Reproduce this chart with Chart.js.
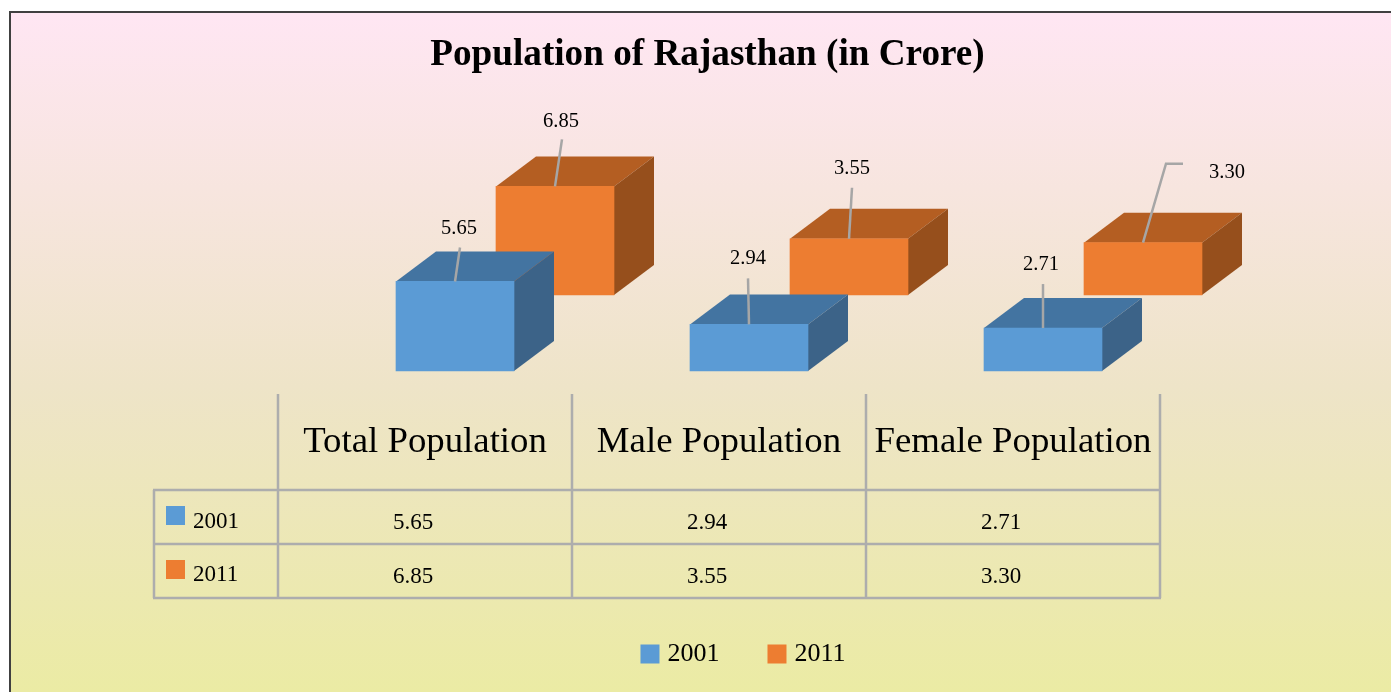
<!DOCTYPE html>
<html>
<head>
<meta charset="utf-8">
<style>html,body{margin:0;padding:0;background:#fff;overflow:hidden}canvas{display:block}</style>
<script src="https://cdn.jsdelivr.net/npm/chart.js@4"></script>
</head>
<body>
<div style="width:1391px;height:692px"><canvas id="c" width="1391" height="692"></canvas></div>
<script>
const titleText = 'Population of Rajasthan (in Crore)';
const categories = ['Total Population', 'Male Population', 'Female Population'];
const series2001Name = '2001';
const series2011Name = '2011';
const values2001 = [5.65, 2.94, 2.71];
const values2011 = [6.85, 3.55, 3.30];

const FONT = '"Liberation Serif", serif';
const front = {a: '#5b9bd5', b: '#ed7d31'};
const topFace = {a: '#4374a1', b: '#b45e22'};
const sideFace = {a: '#3c6388', b: '#964f1c'};
const DEPTH = {x: 40, y: -30};
const GEOM = {left: 278, right: 1160, top: 85.7, bottom: 371, dx1: 30, dx2: 130, dy2: -76,
  tableLeft: 154, rows: [394, 490, 544, 598]};
// leader line offsets from each bar's top-centre, then label offset
const leaders = [
  [[[5, -34]], [4, -53]],
  [[[-1, -46]], [-1, -66]],
  [[[0, -44]], [-2, -63]],
];
const leaders2 = [
  [[[7, -47]], [6, -65]],
  [[[3, -51]], [3, -70]],
  [[[23, -79], [40, -79]], [84, -70]],
];

const layoutPlugin = {
  id: 'placeBoxes',
  afterLayout(chart) {
    const s = chart.scales;
    const setX = (sc, dx) => { sc.left = GEOM.left + dx; sc.right = GEOM.right + dx; sc.width = GEOM.right - GEOM.left; };
    const setY = (sc, dy) => { sc.top = GEOM.top + dy; sc.bottom = GEOM.bottom + dy; sc.height = GEOM.bottom - GEOM.top; };
    setX(s.x, 0); setX(s.x1, GEOM.dx1); setX(s.x2, GEOM.dx2);
    s.x.top = GEOM.bottom; s.x.bottom = GEOM.bottom + 100; s.x.height = 100;
    setY(s.y, 0); setY(s.y2, GEOM.dy2);
    Object.values(s).forEach(sc => sc.configure());
    Object.assign(chart.chartArea, {left: GEOM.left, right: GEOM.right, top: GEOM.top, bottom: GEOM.bottom,
      width: GEOM.right - GEOM.left, height: GEOM.bottom - GEOM.top});
    const t = chart.titleBlock;
    t.left = 12; t.right = 1403; t.top = 33;
    const l = chart.legend;
    l.left = 50; l.right = 1441; l.top = 588;
  }
};

const paintPlugin = {
  id: 'paint',
  beforeDraw(chart) {
    const ctx = chart.ctx;
    ctx.save();
    const g = ctx.createLinearGradient(0, 12, 0, 692);
    g.addColorStop(0, '#ffe6f3');
    g.addColorStop(0.55, '#eee4c8');
    g.addColorStop(1, '#ebeba4');
    ctx.fillStyle = '#ffffff';
    ctx.fillRect(0, 0, 1391, 692);
    ctx.fillStyle = g;
    ctx.fillRect(10, 12, 1381, 680);
    ctx.strokeStyle = '#404040';
    ctx.lineWidth = 2;
    ctx.beginPath();
    ctx.moveTo(10, 692); ctx.lineTo(10, 12); ctx.lineTo(1391, 12);
    ctx.stroke();
    ctx.restore();
  },
  beforeDatasetDraw(chart, args) {
    const ctx = chart.ctx;
    const key = args.index === 0 ? 'a' : 'b';
    ctx.save();
    args.meta.data.forEach(el => {
      const l = el.x - el.width / 2, r = el.x + el.width / 2, t = el.y, b = el.base;
      ctx.fillStyle = topFace[key];
      ctx.beginPath();
      ctx.moveTo(l, t); ctx.lineTo(l + DEPTH.x, t + DEPTH.y); ctx.lineTo(r + DEPTH.x, t + DEPTH.y); ctx.lineTo(r, t);
      ctx.closePath(); ctx.fill();
      ctx.fillStyle = sideFace[key];
      ctx.beginPath();
      ctx.moveTo(r, t); ctx.lineTo(r + DEPTH.x, t + DEPTH.y); ctx.lineTo(r + DEPTH.x, b + DEPTH.y); ctx.lineTo(r, b);
      ctx.closePath(); ctx.fill();
    });
    ctx.restore();
  },
  afterDatasetDraw(chart, args) {
    const ctx = chart.ctx;
    const spec = args.index === 0 ? leaders : leaders2;
    const vals = chart.data.datasets[args.index].data;
    ctx.save();
    args.meta.data.forEach((el, i) => {
      ctx.strokeStyle = '#a6a6a6';
      ctx.lineWidth = 2.5;
      ctx.beginPath();
      ctx.moveTo(el.x, el.y);
      spec[i][0].forEach(p => ctx.lineTo(el.x + p[0], el.y + p[1]));
      ctx.stroke();
      ctx.fillStyle = '#000';
      ctx.font = '20.5px ' + FONT;
      ctx.textAlign = 'center';
      ctx.textBaseline = 'middle';
      ctx.fillText(vals[i].toFixed(2), el.x + spec[i][1][0], el.y + spec[i][1][1]);
    });
    ctx.restore();
  },
  afterDraw(chart) {
    const ctx = chart.ctx, x = chart.scales.x, R = GEOM.rows;
    ctx.save();
    ctx.strokeStyle = '#adadad';
    ctx.lineWidth = 2.5;
    const step = (x.right - x.left) / categories.length;
    ctx.beginPath();
    for (let i = 0; i <= categories.length; i++) {
      const px = x.getPixelForTick(0) - step / 2 + i * step;
      ctx.moveTo(px, R[0]); ctx.lineTo(px, R[3]);
    }
    ctx.moveTo(GEOM.tableLeft, R[1]); ctx.lineTo(GEOM.tableLeft, R[3]);
    [R[1], R[2], R[3]].forEach(y => { ctx.moveTo(GEOM.tableLeft - 1, y); ctx.lineTo(x.right + 1, y); });
    ctx.stroke();
    ctx.font = '23px ' + FONT;
    ctx.textBaseline = 'middle';
    [[series2001Name, values2001, front.a], [series2011Name, values2011, front.b]].forEach((row, r) => {
      const mid = (R[r + 1] + R[r + 2]) / 2;
      ctx.fillStyle = row[2];
      ctx.fillRect(166, mid - 11, 19, 19);
      ctx.fillStyle = '#000';
      ctx.textAlign = 'left';
      ctx.fillText(row[0], 193, mid + 5 - r);
      ctx.textAlign = 'center';
      row[1].forEach((v, i) => ctx.fillText(v.toFixed(2), x.getPixelForTick(i) - 12, mid + 6));
    });
    ctx.restore();
  }
};

new Chart(document.getElementById('c'), {
  type: 'bar',
  data: {
    labels: categories,
    datasets: [
      {label: series2001Name, data: values2001, backgroundColor: front.a, xAxisID: 'x1', yAxisID: 'y', order: 1, barThickness: 118, grouped: false, clip: false},
      {label: series2011Name, data: values2011, backgroundColor: front.b, xAxisID: 'x2', yAxisID: 'y2', order: 2, barThickness: 118, grouped: false, clip: false}
    ]
  },
  options: {
    responsive: false,
    animation: false,
    events: [],
    layout: {padding: 0},
    scales: {
      x: {type: 'category', position: 'bottom', labels: categories, offset: true,
          grid: {display: false, drawTicks: false}, border: {display: false},
          ticks: {color: '#000', font: {family: FONT, size: 36.8}, padding: 49, maxRotation: 0, autoSkip: false}},
      x1: {type: 'category', display: false, labels: categories, offset: true, position: 'bottom'},
      x2: {type: 'category', display: false, labels: categories, offset: true, position: 'bottom'},
      y: {display: false, min: 0, max: 18},
      y2: {display: false, min: 0, max: 18}
    },
    plugins: {
      title: {display: true, text: titleText, color: '#000', padding: 0,
              font: {family: FONT, size: 37.2, weight: 'bold'}},
      legend: {display: true, position: 'bottom',
        labels: {color: '#000', font: {family: FONT, size: 26}, boxWidth: 9, boxHeight: 9, padding: 53,
          generateLabels(chart) {
            return Chart.defaults.plugins.legend.labels.generateLabels(chart).map(it =>
              Object.assign(it, {lineWidth: 10, strokeStyle: it.fillStyle}));
          }}},
      tooltip: {enabled: false}
    }
  },
  plugins: [layoutPlugin, paintPlugin]
});
</script>
</body>
</html>
